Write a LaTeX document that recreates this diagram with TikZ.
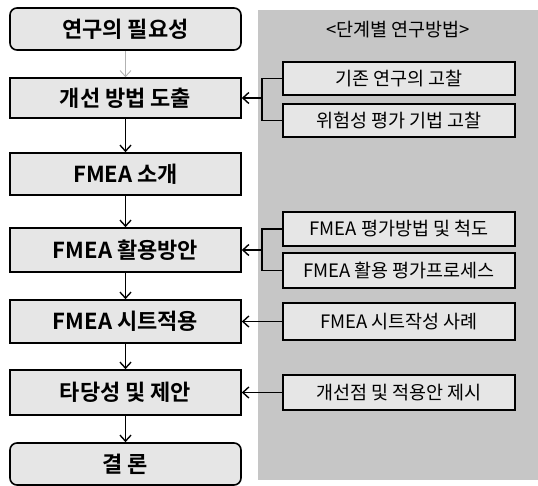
\documentclass[tikz,border=0pt]{standalone}
\usepackage{fontspec}
\setmainfont{Noto Sans CJK KR}[BoldFont={Noto Sans CJK KR Bold}]
\usetikzlibrary{arrows.meta, positioning}
\definecolor{boxfill}{HTML}{E6E6E6}
\definecolor{panelfill}{HTML}{C6C6C6}
\tikzset{
  stage/.style = {draw, line width=1.6pt, fill=boxfill, minimum width=231pt, font=\fontsize{22}{22}\selectfont\bfseries},
  endstage/.style = {stage, rounded corners=7pt},
  method/.style = {draw, line width=1.6pt, fill=boxfill, minimum width=232pt, font=\fontsize{18.5}{18.5}\selectfont},
  flow/.style = {-{Straight Barb[length=6pt,width=11pt]}, line width=1.4pt},
  link/.style = {line width=1.4pt}
}

\begin{document}
\begin{tikzpicture}[x=1pt, y=-1pt]
  \useasboundingbox (0,0) rectangle (538,486);

  % Panel | methods per stage
  \fill[panelfill] (258,10) rectangle (538,480);
  \node[font=\fontsize{18.5}{18.5}\selectfont] (title) at (398,30) {<단계별 연구방법>};

  %% Stages
  \node[endstage, minimum height=42pt] (need) at (125.5,29) {연구의 필요성};
  \node[stage, minimum height=40pt] (derive) at (125.5,98) {개선 방법 도출};
  \node[stage, minimum height=42pt] (intro) at (125.5,174) {FMEA 소개};
  \node[stage, minimum height=44pt] (usage) at (125.5,250) {FMEA 활용방안};
  \node[stage, minimum height=43pt] (sheet) at (125.5,321.5) {FMEA 시트적용};
  \node[stage, minimum height=45pt] (valid) at (125.5,392.5) {타당성 및 제안};
  \node[endstage, minimum height=42pt] (concl) at (125.5,464) {결 론};

  % Arrows | down
  \draw[flow, draw=gray!60, line width=0.9pt] (need) -- (derive);
  \draw[flow] (derive) -- (intro);
  \draw[flow] (intro) -- (usage);
  \draw[flow] (usage) -- (sheet);
  \draw[flow] (sheet) -- (valid);
  \draw[flow] (valid) -- (concl);

  %% Methods
  \node[method, minimum height=33pt] (prior) at (399,78.5) {기존 연구의 고찰};
  \node[method, minimum height=33pt] (risk) at (399,120.5) {위험성 평가 기법 고찰};
  \node[method, minimum height=34pt] (scale) at (399,229) {FMEA 평가방법 및 척도};
  \node[method, minimum height=35pt] (proc) at (399,270.5) {FMEA 활용 평가프로세스};
  \node[method, minimum height=37pt] (case) at (399,321.5) {FMEA 시트작성 사례};
  \node[method, minimum height=35pt] (point) at (399,392.5) {개선점 및 적용안 제시};

  % Brackets
  \coordinate (j1) at (262,98);
  \coordinate (j2) at (262,250);
  \draw[link] (prior.west) -| (j1) |- (risk.west);
  \draw[link] (scale.west) -| (j2) |- (proc.west);

  % Arrows | left
  \draw[flow] (j1) -- (derive);
  \draw[flow] (j2) -- (usage);
  \draw[flow] (case) -- (sheet);
  \draw[flow] (point) -- (valid);

\end{tikzpicture}
\end{document}
